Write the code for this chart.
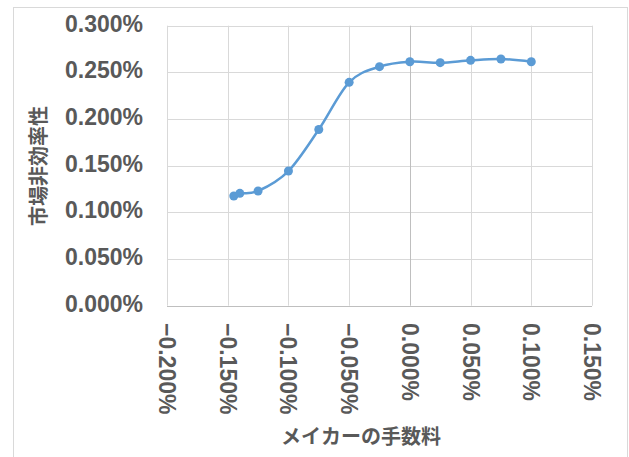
<!DOCTYPE html>
<html>
<head>
<meta charset="utf-8">
<script src="https://cdn.jsdelivr.net/npm/d3@7"></script>
<style>
  body { margin: 0; background: #fff; }
  svg { display: block; }
  .tick-label { font-family: "Liberation Sans", Arial, sans-serif; font-weight: bold; font-size: 23px; fill: #595959; }
  .axis-title { font-family: "Noto Sans CJK JP", sans-serif; font-weight: bold; font-size: 20px; fill: #595959; }
</style>
</head>
<body>
<div id="chart"></div>
<script>
/* DATA */
// maker fee (x) vs market inefficiency (y), both in %
const makerFee = [-0.145, -0.14, -0.125, -0.1, -0.075, -0.05, -0.025, 0, 0.025, 0.05, 0.075, 0.1];
const inefficiency = [0.1175, 0.1204, 0.1229, 0.1443, 0.1888, 0.2393, 0.2561, 0.2614, 0.2604, 0.2629, 0.2643, 0.2614];
const xTicks = [-0.2, -0.15, -0.1, -0.05, 0, 0.05, 0.1, 0.15];
const yTicks = [0, 0.05, 0.1, 0.15, 0.2, 0.25, 0.3];
const xTitle = "メイカーの手数料";
const yTitle = "市場非効率性";

/* CONSTANTS */
const width = 629,
  height = 457,
  margin = { top: 25.7, bottom: 151.3, left: 167, right: 37 };

const svg = d3
  .select("#chart")
  .append("svg")
  .attr("width", width)
  .attr("height", height);

// chart frame
svg
  .append("rect")
  .attr("x", 13.5)
  .attr("y", 7.5)
  .attr("width", 614)
  .attr("height", 460)
  .attr("fill", "none")
  .attr("stroke", "#d9d9d9");

const xScale = d3
  .scaleLinear()
  .domain([-0.2, 0.15])
  .range([margin.left, width - margin.right]);

const yScale = d3
  .scaleLinear()
  .domain([0, 0.3])
  .range([height - margin.bottom, margin.top]);

const fmt = d => d3.format(".3f")(d) + "%";

// gridlines
svg
  .append("g")
  .selectAll("line")
  .data(yTicks)
  .join("line")
  .attr("x1", xScale.range()[0])
  .attr("x2", xScale.range()[1])
  .attr("y1", d => Math.round(yScale(d)) + 0.5)
  .attr("y2", d => Math.round(yScale(d)) + 0.5)
  .attr("stroke", d => (d === 0 ? "#bfbfbf" : "#d9d9d9"));

svg
  .append("g")
  .selectAll("line")
  .data(xTicks)
  .join("line")
  .attr("x1", d => Math.round(xScale(d)) + 0.5)
  .attr("x2", d => Math.round(xScale(d)) + 0.5)
  .attr("y1", yScale.range()[0])
  .attr("y2", yScale.range()[1])
  .attr("stroke", d => (d === 0 ? "#bfbfbf" : "#d9d9d9"));

// y tick labels
svg
  .append("g")
  .selectAll("text")
  .data(yTicks)
  .join("text")
  .attr("class", "tick-label")
  .attr("x", 143)
  .attr("y", d => yScale(d) - 2)
  .attr("text-anchor", "end")
  .attr("dominant-baseline", "central")
  .text(fmt);

// x tick labels, rotated
svg
  .append("g")
  .selectAll("text")
  .data(xTicks)
  .join("text")
  .attr("class", "tick-label")
  .attr("transform", d => `translate(${xScale(d)},323) rotate(90)`)
  .attr("text-anchor", "start")
  .attr("dominant-baseline", "central")
  .text(fmt);

// axis titles
svg
  .append("text")
  .attr("class", "axis-title")
  .attr("x", 361)
  .attr("y", 435)
  .attr("text-anchor", "middle")
  .attr("dominant-baseline", "central")
  .text(xTitle);

svg
  .append("text")
  .attr("class", "axis-title")
  .attr("transform", "translate(37,166) rotate(-90)")
  .attr("text-anchor", "middle")
  .attr("dominant-baseline", "central")
  .text(yTitle);

// series
const points = makerFee.map((x, i) => ({ x, y: inefficiency[i] }));

const lineFunc = d3
  .line()
  .x(d => xScale(d.x))
  .y(d => yScale(d.y))
  .curve(d3.curveCardinal.tension(0));

svg
  .append("path")
  .datum(points)
  .attr("d", lineFunc)
  .attr("fill", "none")
  .attr("stroke", "#5b9bd5")
  .attr("stroke-width", 2.5)
  .attr("stroke-linejoin", "round");

svg
  .append("g")
  .selectAll("circle")
  .data(points)
  .join("circle")
  .attr("cx", d => xScale(d.x))
  .attr("cy", d => yScale(d.y))
  .attr("r", 4.5)
  .attr("fill", "#5b9bd5");
</script>
</body>
</html>
